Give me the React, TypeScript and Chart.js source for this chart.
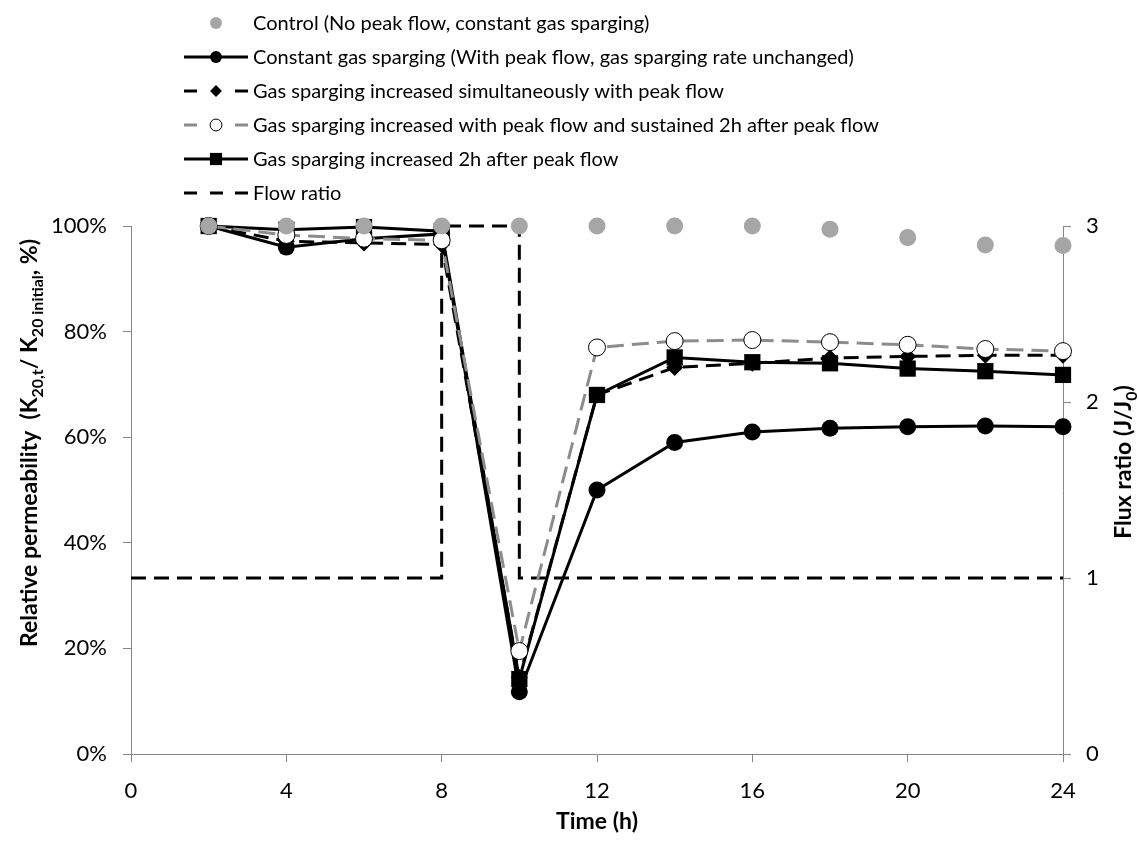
import React, { useEffect, useRef } from 'react';
import { Chart, registerables } from 'chart.js';

Chart.register(...registerables);

// ---- data ----
const hours = [2, 4, 6, 8, 10, 12, 14, 16, 18, 20, 22, 24];
const controlValues = [100, 100, 100, 100, 100, 100, 100, 100, 99.4, 97.8, 96.4, 96.3];
const constantValues = [100, 96, 97.6, 98.5, 11.8, 50, 59, 61, 61.7, 62, 62.1, 62];
const simultaneousValues = [100, 97.1, 96.8, 96.5, 14.5, 68, 73.2, 74, 75, 75.3, 75.5, 75.5];
const sustainedValues = [100, 98.3, 97.6, 97.3, 19.5, 77, 78.2, 78.4, 78, 77.5, 76.7, 76.3];
const delayedValues = [100, 99.3, 99.8, 99, 14.2, 68, 75.1, 74.2, 74, 73, 72.5, 71.8];
const flowRatioHours = [0, 8, 8, 10, 10, 24];
const flowRatioValues = [1, 1, 3, 3, 1, 1];

const seriesLabels = [
  'Control (No peak flow, constant gas sparging)',
  'Constant gas sparging (With peak flow, gas sparging rate unchanged)',
  'Gas sparging increased simultaneously with peak flow',
  'Gas sparging increased with peak flow and sustained 2h after peak flow',
  'Gas sparging increased 2h after peak flow',
  'Flow ratio',
];

const timeRange = [0, 24];
const timeStep = 4;
const permeabilityRange = [0, 100];
const permeabilityStep = 20;
const fluxRange = [0, 3];
const fluxStep = 1;

const xTitle = 'Time (h)';
const yTitleParts = [
  { text: 'Relative permeability  (K', sub: false },
  { text: '20,t', sub: true },
  { text: '/ K', sub: false },
  { text: '20 initial', sub: true },
  { text: ', %)', sub: false },
];
const y2TitleParts = [
  { text: 'Flux ratio (J/J', sub: false },
  { text: '0', sub: true },
  { text: ')', sub: false },
];

// ---- styling ----
const FONT = 'Lato, "Open Sans", sans-serif';
const AXIS_GREY = '#868686';
const CONTROL_GREY = '#A6A6A6';
const DASH_GREY = '#8C8C8C';
const TICK_SIZE = 22;
const LEGEND_SIZE = 20;
const TITLE_SIZE = 23;

const W = 1139;
const H = 841;

const toPoints = (xs: number[], ys: number[]) => xs.map((x, i) => ({ x, y: ys[i] }));

type Part = { text: string; sub: boolean };

// Draws a bold label centred on the current origin, with subscript runs.
function drawRichText(ctx: CanvasRenderingContext2D, parts: Part[], size: number) {
  const main = `bold ${size}px ${FONT}`;
  const small = `bold ${Math.round(size * 0.68)}px ${FONT}`;
  let total = 0;
  const widths = parts.map((p) => {
    ctx.font = p.sub ? small : main;
    const w = ctx.measureText(p.text).width;
    total += w;
    return w;
  });
  let x = -total / 2;
  ctx.textBaseline = 'alphabetic';
  ctx.textAlign = 'left';
  parts.forEach((p, i) => {
    ctx.font = p.sub ? small : main;
    ctx.fillText(p.text, x, p.sub ? size * 0.62 : size * 0.36);
    x += widths[i];
  });
}

function marker(
  ctx: CanvasRenderingContext2D,
  style: string,
  x: number,
  y: number,
  r: number,
  fill: string,
  stroke: string,
  lw: number
) {
  ctx.beginPath();
  if (style === 'circle') {
    ctx.arc(x, y, r, 0, Math.PI * 2);
  } else if (style === 'rect') {
    const s = r * Math.SQRT1_2;
    ctx.rect(x - s, y - s, 2 * s, 2 * s);
  } else if (style === 'rectRot') {
    ctx.moveTo(x, y - r);
    ctx.lineTo(x + r, y);
    ctx.lineTo(x, y + r);
    ctx.lineTo(x - r, y);
    ctx.closePath();
  }
  ctx.fillStyle = fill;
  ctx.fill();
  if (lw > 0) {
    ctx.lineWidth = lw;
    ctx.strokeStyle = stroke;
    ctx.stroke();
  }
}

// legend rows in display order, as indices into the chart's datasets
const legendOrder = [0, 4, 3, 1, 2, 5];

const legendAndTitles = {
  id: 'legendAndTitles',
  afterDraw(chart: any) {
    const ctx: CanvasRenderingContext2D = chart.ctx;
    const area = chart.chartArea;
    const lx0 = 184;
    const lx1 = 248;
    const lxm = (lx0 + lx1) / 2;
    const textX = 253;
    const rowTop = 23;
    const rowGap = 34;

    ctx.save();
    legendOrder.forEach((dsIndex, row) => {
      const ds = chart.data.datasets[dsIndex];
      const y = rowTop + row * rowGap;
      ctx.lineCap = 'butt';
      if (ds.showLine !== false) {
        ctx.strokeStyle = ds.borderColor;
        ctx.lineWidth = ds.borderWidth;
        ctx.setLineDash([]);
        ctx.beginPath();
        if (ds.borderDash && ds.borderDash.length) {
          if (ds.pointRadius > 0) {
            ctx.moveTo(lx0, y);
            ctx.lineTo(lx0 + 13, y);
            ctx.moveTo(lx1 - 13, y);
            ctx.lineTo(lx1, y);
          } else {
            ctx.moveTo(lx0, y);
            ctx.lineTo(lx0 + 13, y);
            ctx.moveTo(lxm - 6, y);
            ctx.lineTo(lxm + 7, y);
            ctx.moveTo(lx1 - 13, y);
            ctx.lineTo(lx1, y);
          }
        } else {
          ctx.moveTo(lx0, y);
          ctx.lineTo(lx1, y);
        }
        ctx.stroke();
      }
      if (ds.pointRadius > 0) {
        const r = ds.pointStyle === 'rect' ? ds.pointRadius * 0.75 : ds.pointRadius * 0.7;
        marker(ctx, ds.pointStyle, lxm, y, r, ds.pointBackgroundColor, ds.pointBorderColor, ds.pointBorderWidth);
      }
      ctx.fillStyle = '#000';
      ctx.font = `${LEGEND_SIZE}px ${FONT}`;
      ctx.textAlign = 'left';
      ctx.textBaseline = 'middle';
      ctx.fillText(ds.label, textX, y + 1);
    });

    ctx.fillStyle = '#000';
    // time axis title
    ctx.save();
    ctx.translate((area.left + area.right) / 2, 821);
    drawRichText(ctx, [{ text: xTitle, sub: false }], TITLE_SIZE);
    ctx.restore();
    // permeability axis title
    ctx.save();
    ctx.translate(29, 443);
    ctx.rotate(-Math.PI / 2);
    drawRichText(ctx, yTitleParts, TITLE_SIZE);
    ctx.restore();
    // flux ratio axis title
    ctx.save();
    ctx.translate(1123, 462);
    ctx.rotate(-Math.PI / 2);
    drawRichText(ctx, y2TitleParts, TITLE_SIZE);
    ctx.restore();

    ctx.restore();
  },
};

export default function App() {
  const canvasRef = useRef<HTMLCanvasElement>(null);

  useEffect(() => {
    const canvas = canvasRef.current;
    if (!canvas) return;

    const tickFont = { family: FONT, size: TICK_SIZE };
    const axisGrid = {
      display: true,
      drawOnChartArea: false,
      drawTicks: true,
      tickLength: 8,
      color: AXIS_GREY,
      lineWidth: 1,
    };

    const chart = new Chart(canvas, {
      type: 'scatter',
      data: {
        datasets: [
          {
            label: seriesLabels[0],
            data: toPoints(hours, controlValues),
            showLine: false,
            clip: false,
            pointStyle: 'circle',
            pointRadius: 8.5,
            pointBackgroundColor: CONTROL_GREY,
            pointBorderColor: CONTROL_GREY,
            pointBorderWidth: 0,
            borderColor: CONTROL_GREY,
            yAxisID: 'y',
          },
          {
            label: seriesLabels[3],
            data: toPoints(hours, sustainedValues),
            showLine: true,
            clip: false,
            borderColor: DASH_GREY,
            borderWidth: 3,
            borderDash: [17, 8],
            pointStyle: 'circle',
            pointRadius: 8.5,
            pointBackgroundColor: '#FFFFFF',
            pointBorderColor: '#000000',
            pointBorderWidth: 1,
            yAxisID: 'y',
          },
          {
            label: seriesLabels[4],
            data: toPoints(hours, delayedValues),
            showLine: true,
            clip: false,
            borderColor: '#000000',
            borderWidth: 3,
            pointStyle: 'rect',
            pointRadius: 11.5,
            pointBackgroundColor: '#000000',
            pointBorderColor: '#000000',
            pointBorderWidth: 0,
            yAxisID: 'y',
          },
          {
            label: seriesLabels[2],
            data: toPoints(hours, simultaneousValues),
            showLine: true,
            clip: false,
            borderColor: '#000000',
            borderWidth: 3,
            borderDash: [15, 8],
            pointStyle: 'rectRot',
            pointRadius: 8.5,
            pointBackgroundColor: '#000000',
            pointBorderColor: '#000000',
            pointBorderWidth: 0,
            yAxisID: 'y',
          },
          {
            label: seriesLabels[1],
            data: toPoints(hours, constantValues),
            showLine: true,
            clip: false,
            borderColor: '#000000',
            borderWidth: 3,
            pointStyle: 'circle',
            pointRadius: 8.5,
            pointBackgroundColor: '#000000',
            pointBorderColor: '#000000',
            pointBorderWidth: 0,
            yAxisID: 'y',
          },
          {
            label: seriesLabels[5],
            data: toPoints(flowRatioHours, flowRatioValues),
            showLine: true,
            clip: false,
            borderColor: '#000000',
            borderWidth: 3,
            borderDash: [15, 8],
            pointRadius: 0,
            pointHoverRadius: 0,
            yAxisID: 'y2',
          },
        ],
      },
      options: {
        responsive: false,
        animation: false,
        events: [],
        layout: { padding: { top: 226, left: 0, right: 0, bottom: 0 } },
        plugins: {
          legend: { display: false },
          tooltip: { enabled: false },
          title: { display: false },
        },
        scales: {
          x: {
            type: 'linear',
            position: 'bottom',
            min: timeRange[0],
            max: timeRange[1],
            ticks: { stepSize: timeStep, color: '#000', font: tickFont, padding: 16 },
            grid: axisGrid,
            border: { display: true, color: AXIS_GREY, width: 1 },
            afterFit: (scale: any) => {
              scale.height = H - 754;
            },
          },
          y: {
            type: 'linear',
            position: 'left',
            min: permeabilityRange[0],
            max: permeabilityRange[1],
            ticks: {
              stepSize: permeabilityStep,
              color: '#000',
              font: tickFont,
              padding: 16,
              callback: (v: any) => `${v}%`,
            },
            grid: axisGrid,
            border: { display: true, color: AXIS_GREY, width: 1 },
            afterFit: (scale: any) => {
              scale.width = 131;
            },
          },
          y2: {
            type: 'linear',
            position: 'right',
            min: fluxRange[0],
            max: fluxRange[1],
            ticks: { stepSize: fluxStep, color: '#000', font: tickFont, padding: 15 },
            grid: axisGrid,
            border: { display: true, color: AXIS_GREY, width: 1 },
            afterFit: (scale: any) => {
              scale.width = W - 1063;
            },
          },
        },
      },
      plugins: [legendAndTitles],
    } as any);

    return () => chart.destroy();
  }, []);

  return (
    <div style={{ position: 'absolute', left: 0, top: 0, width: W, height: H, background: '#fff' }}>
      <canvas ref={canvasRef} width={W} height={H} />
    </div>
  );
}
